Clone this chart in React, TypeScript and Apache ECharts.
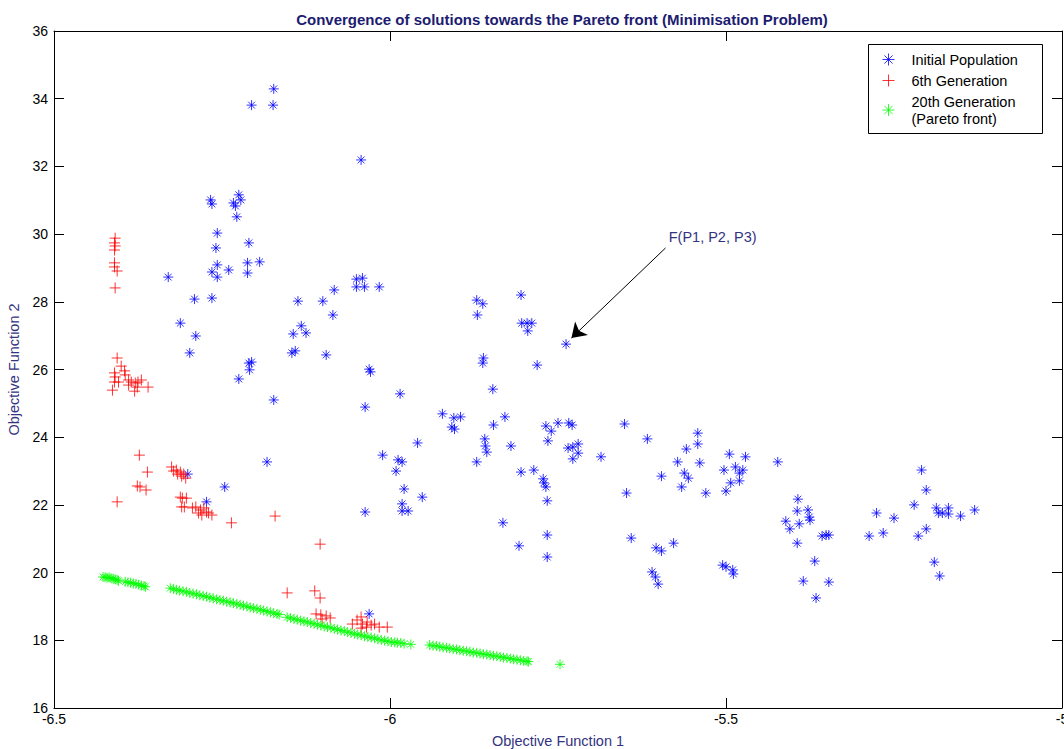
import React, { useEffect, useRef } from "react";
import * as echarts from "echarts";

const FONT = '"Liberation Sans", Arial, Helvetica, sans-serif';

const titleText = "Convergence of solutions towards the Pareto front (Minimisation Problem)";
const xAxisName = "Objective Function 1";
const yAxisName = "Objective Function 2";
const seriesNames = ["Initial Population", "6th Generation", "20th Generation\n(Pareto front)"];
const annotationText = "F(P1, P2, P3)";
const annotationTextAt: [number, number] = [-5.586, 29.91];
const arrowFrom: [number, number] = [-5.59, 29.59];
const arrowTo: [number, number] = [-5.73, 26.93];

const initialPopulation: [number, number][] = [
  [-6.173, 34.29], [-6.206, 33.81], [-6.174, 33.81], [-6.043, 32.19],
  [-6.267, 31.01], [-6.265, 30.89], [-6.233, 30.92], [-6.225, 31.16], [-6.222, 31.01], [-6.23, 30.83], [-6.228, 30.51],
  [-6.257, 30.03], [-6.259, 29.59], [-6.21, 29.74], [-6.257, 29.09], [-6.265, 28.88], [-6.257, 28.73], [-6.24, 28.94], [-6.212, 29.15], [-6.194, 29.18], [-6.212, 28.85],
  [-6.33, 28.73], [-6.291, 28.08], [-6.265, 28.11], [-6.137, 28.02], [-6.1, 28.02], [-6.083, 28.35], [-6.085, 27.61],
  [-6.05, 28.67], [-6.041, 28.7], [-6.05, 28.44], [-6.038, 28.44], [-6.016, 28.44],
  [-6.132, 27.29], [-6.144, 27.05], [-6.125, 27.08], [-6.146, 26.49], [-6.141, 26.55], [-6.095, 26.43],
  [-6.312, 27.37], [-6.289, 26.99], [-6.298, 26.49],
  [-6.21, 26.19], [-6.206, 26.22], [-6.209, 25.99], [-6.225, 25.72], [-6.173, 25.1],
  [-6.183, 23.27], [-6.301, 22.91], [-6.246, 22.53], [-6.273, 22.09],
  [-6.031, 26.01], [-6.029, 25.93], [-5.985, 25.28], [-6.037, 24.89],
  [-6.011, 23.47], [-5.988, 23.33], [-5.982, 23.27], [-5.991, 23.0], [-5.959, 23.83],
  [-5.979, 22.47], [-5.952, 22.23], [-5.982, 22.03], [-5.982, 21.82], [-5.973, 21.82], [-6.037, 21.79], [-6.031, 18.78],
  [-5.871, 28.05], [-5.862, 27.94], [-5.87, 27.61], [-5.805, 28.2], [-5.804, 27.37], [-5.796, 27.37], [-5.789, 27.37], [-5.795, 27.14],
  [-5.738, 26.75], [-5.861, 26.34], [-5.862, 26.19], [-5.781, 26.13], [-5.847, 25.42],
  [-5.922, 24.69], [-5.905, 24.57], [-5.895, 24.6], [-5.908, 24.3], [-5.904, 24.24], [-5.829, 24.6], [-5.846, 24.36],
  [-5.859, 23.95], [-5.858, 23.74], [-5.856, 23.56], [-5.871, 23.27], [-5.82, 23.74],
  [-5.768, 24.33], [-5.76, 24.18], [-5.75, 24.42], [-5.734, 24.42], [-5.729, 24.36], [-5.765, 23.89],
  [-5.735, 23.68], [-5.728, 23.71], [-5.72, 23.8], [-5.72, 23.53], [-5.728, 23.36], [-5.686, 23.42],
  [-5.805, 22.97], [-5.786, 23.03], [-5.772, 22.77], [-5.771, 22.65], [-5.768, 22.53], [-5.766, 22.12],
  [-5.832, 21.47], [-5.766, 21.11], [-5.808, 20.79], [-5.766, 20.46],
  [-5.651, 24.39], [-5.617, 23.95], [-5.648, 22.35], [-5.641, 21.02], [-5.596, 22.85],
  [-5.604, 20.73], [-5.596, 20.64], [-5.578, 20.87], [-5.61, 20.02], [-5.605, 19.87], [-5.601, 19.66],
  [-5.572, 23.27], [-5.559, 23.65], [-5.542, 24.12], [-5.542, 23.8], [-5.539, 23.24], [-5.562, 22.94], [-5.556, 22.79], [-5.566, 22.53], [-5.53, 22.35],
  [-5.495, 23.5], [-5.471, 23.42], [-5.503, 23.03], [-5.486, 23.12], [-5.475, 23.03], [-5.48, 22.94], [-5.493, 22.65], [-5.48, 22.71], [-5.5, 22.41], [-5.423, 23.27],
  [-5.505, 20.22], [-5.5, 20.17], [-5.49, 20.08], [-5.489, 19.96],
  [-5.393, 22.17], [-5.394, 21.82], [-5.378, 21.85], [-5.376, 21.64], [-5.375, 21.55], [-5.411, 21.52], [-5.405, 21.29], [-5.391, 21.44], [-5.394, 20.87],
  [-5.368, 20.34], [-5.385, 19.75], [-5.347, 19.72], [-5.366, 19.25], [-5.357, 21.08], [-5.351, 21.11], [-5.347, 21.11],
  [-5.287, 21.08], [-5.266, 21.17], [-5.276, 21.76], [-5.25, 21.61],
  [-5.209, 23.03], [-5.202, 22.44], [-5.22, 22.0], [-5.187, 21.91], [-5.184, 21.76], [-5.178, 21.76], [-5.169, 21.91], [-5.169, 21.73], [-5.151, 21.67], [-5.13, 21.85], [-5.202, 21.29], [-5.214, 21.08], [-5.19, 20.31], [-5.182, 19.9],
];

const sixthGeneration: [number, number][] = [
  [-6.409, 29.88], [-6.41, 29.74], [-6.409, 29.65], [-6.41, 29.53], [-6.41, 29.15], [-6.41, 29.03], [-6.406, 28.91], [-6.409, 28.41],
  [-6.406, 26.34], [-6.4, 26.1], [-6.395, 25.96], [-6.41, 25.9], [-6.409, 25.78], [-6.394, 25.84], [-6.389, 25.69], [-6.385, 25.63],
  [-6.41, 25.63], [-6.404, 25.63], [-6.379, 25.6], [-6.375, 25.63], [-6.37, 25.69], [-6.413, 25.39], [-6.389, 25.54], [-6.38, 25.36],
  [-6.36, 25.48], [-6.376, 25.48],
  [-6.373, 23.47], [-6.361, 22.97], [-6.376, 22.56], [-6.372, 22.53], [-6.363, 22.44], [-6.406, 22.09],
  [-6.325, 23.12], [-6.322, 23.0], [-6.318, 23.03], [-6.312, 22.97], [-6.307, 22.91], [-6.304, 22.79], [-6.316, 22.91], [-6.31, 22.85],
  [-6.312, 22.23], [-6.309, 22.2], [-6.303, 22.2], [-6.306, 21.94], [-6.31, 21.94], [-6.289, 21.94], [-6.282, 21.85], [-6.277, 21.91],
  [-6.273, 21.79], [-6.28, 21.7], [-6.27, 21.76], [-6.265, 21.7], [-6.285, 21.76], [-6.294, 21.91], [-6.236, 21.47], [-6.171, 21.67],
  [-6.104, 20.84], [-6.153, 19.4], [-6.112, 19.46], [-6.104, 19.25],
  [-6.11, 18.78], [-6.103, 18.75], [-6.095, 18.72], [-6.089, 18.66], [-6.101, 18.63],
  [-6.056, 18.48], [-6.049, 18.6], [-6.043, 18.69], [-6.041, 18.48], [-6.034, 18.54], [-6.028, 18.45], [-6.023, 18.48], [-6.016, 18.39],
  [-6.004, 18.39], [-6.043, 18.36], [-6.035, 18.39],
];

const twentiethGeneration: [number, number][] = [
  [-6.427, 19.87], [-6.424, 19.86], [-6.421, 19.85], [-6.418, 19.86], [-6.415, 19.83], [-6.412, 19.82], [-6.409, 19.8], [-6.406, 19.78], [-6.404, 19.76],
  [-6.394, 19.73], [-6.39, 19.71], [-6.386, 19.7], [-6.382, 19.68], [-6.378, 19.67], [-6.374, 19.64], [-6.37, 19.62], [-6.366, 19.6], [-6.364, 19.58],
  [-6.327, 19.54], [-6.322, 19.52], [-6.318, 19.49], [-6.313, 19.47], [-6.308, 19.45], [-6.303, 19.43], [-6.298, 19.4], [-6.293, 19.38],
  [-6.288, 19.36], [-6.283, 19.33], [-6.278, 19.31], [-6.273, 19.29], [-6.268, 19.26], [-6.263, 19.24], [-6.258, 19.21], [-6.253, 19.19],
  [-6.248, 19.17], [-6.243, 19.14], [-6.238, 19.12], [-6.233, 19.1], [-6.228, 19.07], [-6.223, 19.05], [-6.218, 19.02], [-6.213, 19.0],
  [-6.208, 18.97], [-6.203, 18.95], [-6.198, 18.93], [-6.193, 18.9], [-6.188, 18.88], [-6.183, 18.85], [-6.178, 18.83], [-6.173, 18.8],
  [-6.168, 18.78], [-6.165, 18.76],
  [-6.153, 18.68], [-6.148, 18.66], [-6.143, 18.63], [-6.138, 18.61], [-6.133, 18.58], [-6.128, 18.56], [-6.123, 18.54], [-6.118, 18.51],
  [-6.113, 18.49], [-6.108, 18.46], [-6.103, 18.44], [-6.098, 18.41], [-6.093, 18.39], [-6.088, 18.37], [-6.083, 18.34], [-6.078, 18.32],
  [-6.073, 18.29], [-6.068, 18.27], [-6.063, 18.24], [-6.058, 18.22], [-6.053, 18.19], [-6.048, 18.17], [-6.043, 18.15], [-6.038, 18.12],
  [-6.033, 18.1], [-6.028, 18.08], [-6.023, 18.06], [-6.018, 18.03], [-6.013, 18.01], [-6.008, 17.99], [-6.003, 17.97], [-5.998, 17.95],
  [-5.993, 17.94], [-5.989, 17.93], [-5.984, 17.92], [-5.979, 17.9], [-5.969, 17.88],
  [-5.941, 17.86], [-5.936, 17.84], [-5.931, 17.83], [-5.926, 17.81], [-5.921, 17.79], [-5.916, 17.78], [-5.911, 17.76], [-5.906, 17.74],
  [-5.901, 17.73], [-5.896, 17.71], [-5.891, 17.69], [-5.886, 17.68], [-5.881, 17.66], [-5.876, 17.64], [-5.871, 17.63], [-5.866, 17.61],
  [-5.861, 17.59], [-5.856, 17.58], [-5.851, 17.56], [-5.846, 17.54], [-5.841, 17.53], [-5.836, 17.51], [-5.831, 17.49], [-5.826, 17.48],
  [-5.821, 17.46], [-5.816, 17.44], [-5.811, 17.43], [-5.806, 17.41], [-5.801, 17.39], [-5.796, 17.38], [-5.794, 17.37],
  [-5.747, 17.29],
];

const STAR = "path://M5 0L5 10M0 5L10 5M1.6 1.6L8.4 8.4M1.6 8.4L8.4 1.6";
const PLUS = "path://M5 0L5 10M0 5L10 5";

const BLUE = "#0000ff";
const RED = "#ff0000";
const GREEN = "#00ff00";
const NAVY = "#1c1c70";
const LABEL_NAVY = "#33337f";

function markerStyle(color: string) {
  return { color: "rgba(0,0,0,0)", borderColor: color, borderWidth: 1 };
}

export default function App() {
  const ref = useRef<HTMLDivElement>(null);

  useEffect(() => {
    if (!ref.current) return;
    const chart = echarts.init(ref.current, undefined, { renderer: "svg" });

    const axisCommon = {
      type: "value" as const,
      axisLine: { show: true, onZero: false, lineStyle: { color: "#000", width: 1 } },
      axisTick: { show: true, inside: true, length: 10, lineStyle: { color: "#000", width: 1 } },
      splitLine: { show: false },
    };

    chart.setOption({
      animation: false,
      backgroundColor: "#fff",
      title: {
        text: titleText,
        left: 557,
        textAlign: "center",
        top: 7,
        textStyle: { fontFamily: FONT, fontWeight: "bold", fontSize: 15, color: NAVY },
      },
      grid: { left: 54, right: 2, top: 31, bottom: 41, containLabel: false, outerBoundsMode: "none" },
      legend: {
        orient: "vertical",
        left: 868,
        top: 44,
        padding: [7, 10, 5, 14],
        itemGap: 4,
        itemWidth: 36,
        itemHeight: 12,
        selectedMode: false,
        textStyle: { fontFamily: FONT, fontSize: 14.5, lineHeight: 17, color: "#000" },
        data: [
          { name: seriesNames[0], icon: STAR, itemStyle: markerStyle(BLUE) },
          { name: seriesNames[1], icon: PLUS, itemStyle: markerStyle(RED) },
          { name: seriesNames[2], icon: STAR, itemStyle: markerStyle(GREEN) },
        ],
      },
      graphic: [
        {
          type: "rect",
          z: 1,
          shape: { x: 868.5, y: 44.5, width: 174, height: 89 },
          style: { fill: "#fff", stroke: "#000", lineWidth: 1 },
        },
      ],
      xAxis: [
        {
          ...axisCommon,
          min: -6.5,
          max: -5,
          interval: 0.5,
          position: "bottom",
          name: xAxisName,
          nameLocation: "middle",
          nameGap: 25,
          nameTextStyle: { fontFamily: FONT, fontSize: 14.5, color: LABEL_NAVY },
          axisLabel: { color: "#000", fontFamily: FONT, fontSize: 14, margin: 4 },
        },
        {
          ...axisCommon,
          min: -6.5,
          max: -5,
          interval: 0.5,
          position: "top",
          axisLabel: { show: false },
        },
      ],
      yAxis: [
        {
          ...axisCommon,
          min: 16,
          max: 36,
          interval: 2,
          position: "left",
          name: yAxisName,
          nameLocation: "middle",
          nameGap: 31,
          nameTextStyle: { fontFamily: FONT, fontSize: 14.5, color: LABEL_NAVY },
          axisLabel: { color: "#000", fontFamily: FONT, fontSize: 14, margin: 6 },
        },
        {
          ...axisCommon,
          min: 16,
          max: 36,
          interval: 2,
          position: "right",
          axisLabel: { show: false },
        },
      ],
      series: [
        {
          type: "scatter",
          name: seriesNames[0],
          data: initialPopulation,
          symbol: STAR,
          symbolSize: 10,
          itemStyle: markerStyle(BLUE),
          emphasis: { disabled: true },
          markLine: {
            silent: true,
            symbol: ["none", "arrow"],
            symbolSize: 14,
            lineStyle: { color: "#000", width: 1, type: "solid" },
            itemStyle: { color: "#000" },
            label: { show: false },
            data: [[{ coord: arrowFrom }, { coord: arrowTo }]],
          },
          markPoint: {
            silent: true,
            symbol: "circle",
            symbolSize: 1,
            itemStyle: { color: "rgba(0,0,0,0)" },
            label: {
              show: true,
              position: "right",
              distance: 0,
              formatter: annotationText,
              fontFamily: FONT,
              fontSize: 14.5,
              color: LABEL_NAVY,
            },
            data: [{ coord: annotationTextAt }],
          },
        },
        {
          type: "scatter",
          name: seriesNames[1],
          data: sixthGeneration,
          symbol: PLUS,
          symbolSize: 11,
          itemStyle: markerStyle(RED),
          emphasis: { disabled: true },
        },
        {
          type: "scatter",
          name: seriesNames[2],
          data: twentiethGeneration,
          symbol: STAR,
          symbolSize: 10,
          itemStyle: markerStyle(GREEN),
          emphasis: { disabled: true },
        },
      ],
    });

    return () => chart.dispose();
  }, []);

  return (
    <div
      ref={ref}
      style={{ position: "fixed", left: 0, top: 0, width: 1064, height: 749, background: "#fff" }}
    />
  );
}
